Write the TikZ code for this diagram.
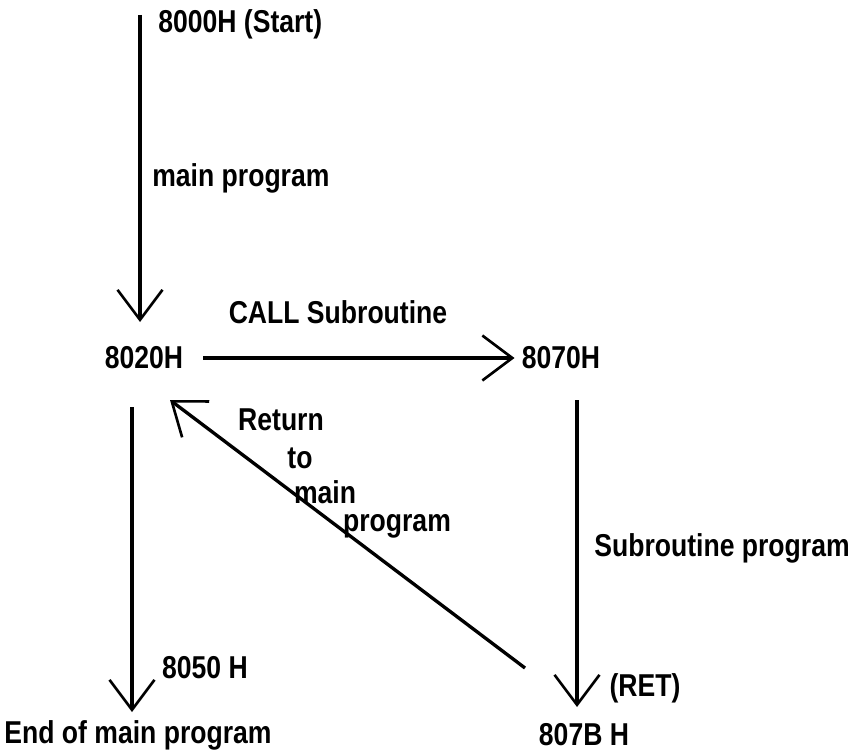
\documentclass[tikz,border=0pt]{standalone}
\usepackage{fontspec}
\setmainfont{Liberation Sans}[FakeStretch=0.84]
\usetikzlibrary{arrows.meta}

\tikzset{
  lbl/.style={font=\fontsize{18}{22}\selectfont\bfseries, inner sep=0pt},
  flow/.style={-{Straight Barb[length=0.6cm, width=0.9cm, line width=1.5pt]}, line width=1.9pt}
}

\begin{document}
\begin{tikzpicture}[x=0.02cm, y=-0.02cm]
\useasboundingbox (0,0) rectangle (851,753);

% addresses and labels
\node[lbl, anchor=west] (start) at (158,24) {8000H (Start)};
\node[lbl, anchor=west] (mainprog) at (152,178) {main program};
\node[lbl] (n8020) at (144,358) {8020H};
\node[lbl] (call) at (338,312) {CALL Subroutine};
\node[lbl] (n8070) at (561,358) {8070H};
\node[lbl] (subprog) at (722,548) {Subroutine program};
\node[lbl] (n8050) at (205,668) {8050 H};
\node[lbl] (endmain) at (138,735) {End of main program};
\node[lbl] (ret) at (645,688) {(RET)};
\node[lbl] (n807B) at (584,735) {807B H};

% return label
\node[lbl] (rtn1) at (281,420) {Return};
\node[lbl] (rtn2) at (300,458) {to};
\node[lbl] (rtn3) at (325,492) {main};
\node[lbl] (rtn4) at (397,526) {program};

% arrow ends
\coordinate (mtop) at (140,15);
\coordinate (mtip) at (140,322);
\coordinate (ltop) at (132,407);
\coordinate (ltip) at (132,712);
\coordinate (rtop) at (577,400);
\coordinate (rtip) at (577,707);
\coordinate (dfoot) at (525,668);
\coordinate (dtip) at (170,400);

% connectors
\draw[flow] (mtop) -- (mtip);
\draw[flow, shorten <=0.4cm, shorten >=0.14cm] (n8020.east) -- (n8070.west);
\draw[flow] (ltop) -- (ltip);
\draw[flow] (rtop) -- (rtip);
\draw[flow] (dfoot) -- (dtip);
\end{tikzpicture}
\end{document}
